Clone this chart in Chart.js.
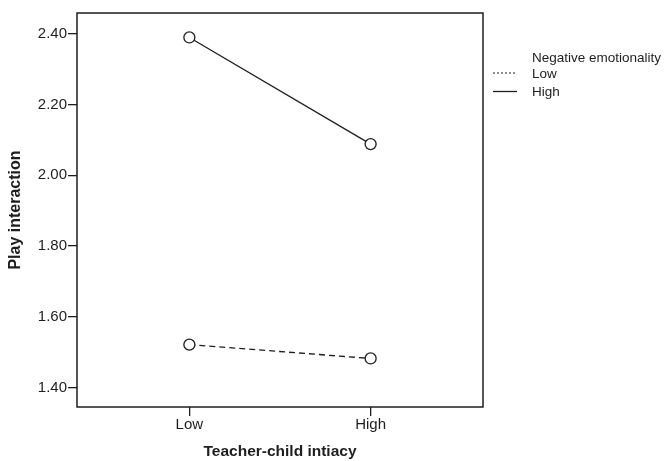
<!DOCTYPE html>
<html>
<head>
<meta charset="utf-8">
<script src="https://cdn.jsdelivr.net/npm/chart.js@4/dist/chart.umd.min.js"></script>
<style>
  html, body { margin: 0; padding: 0; background: #fff; }
  #wrap { width: 665px; height: 461px; }
</style>
</head>
<body>
<div id="wrap"><canvas id="chart"></canvas></div>
<script>
// categories on the x axis
const categories = ['Low', 'High'];
// negative emotionality groups
const seriesNames = ['Low', 'High'];
const lowValues = [1.522, 1.483];
const highValues = [2.389, 2.088];
// y axis ticks
const yTicks = [1.40, 1.60, 1.80, 2.00, 2.20, 2.40];
const yTickLabels = ['1.40', '1.60', '1.80', '2.00', '2.20', '2.40'];

const ink = '#1e1e1e';
const font = 'Liberation Sans, Arial, sans-serif';

function toPoints(vals) {
    return vals.map((v, i) => ({ x: i, y: v }));
}

// box round the plot area
const frame = {
    id: 'frame',
    afterDatasetsDraw(chart) {
        const { ctx, chartArea: a } = chart;
        ctx.save();
        ctx.strokeStyle = ink;
        ctx.lineWidth = 1.5;
        ctx.strokeRect(a.left, a.top, a.right - a.left, a.bottom - a.top);
        ctx.restore();
    }
};

// legend at the right, SPSS style
const sideLegend = {
    id: 'sideLegend',
    afterDraw(chart) {
        const { ctx, chartArea: a } = chart;
        const x0 = a.right + 10;
        ctx.save();
        ctx.font = '13.5px ' + font;
        ctx.fillStyle = ink;
        ctx.textBaseline = 'middle';
        ctx.fillText('Negative emotionality', x0 + 39, 58);
        chart.data.datasets.forEach((ds, i) => {
            const y = 74 + i * 18.5;
            ctx.beginPath();
            ctx.setLineDash(ds.borderDash.length ? [2, 2] : []);
            ctx.strokeStyle = ink;
            ctx.lineWidth = ds.borderDash.length ? 1 : 1.3;
            ctx.moveTo(x0, y - 1);
            ctx.lineTo(x0 + 24, y - 1);
            ctx.stroke();
            ctx.setLineDash([]);
            ctx.fillText(ds.label, x0 + 39, y);
        });
        ctx.restore();
    }
};

const pointStyle = {
    pointRadius: 5.5,
    pointHoverRadius: 5.5,
    pointBackgroundColor: '#fff',
    pointBorderColor: ink,
    pointBorderWidth: 1.3,
    borderColor: ink,
    borderWidth: 1.3,
    showLine: true,
    fill: false
};

new Chart(document.getElementById('chart'), {
    type: 'scatter',
    data: {
        datasets: [
            Object.assign({ label: seriesNames[0], data: toPoints(lowValues), borderDash: [6, 4] }, pointStyle),
            Object.assign({ label: seriesNames[1], data: toPoints(highValues), borderDash: [] }, pointStyle)
        ]
    },
    options: {
        responsive: true,
        maintainAspectRatio: false,
        animation: false,
        layout: { padding: { top: 13, right: 182, left: 0, bottom: 0 } },
        plugins: {
            legend: { display: false },
            tooltip: { enabled: false }
        },
        scales: {
            x: {
                type: 'linear',
                min: -0.62,
                max: 1.62,
                afterBuildTicks: s => { s.ticks = categories.map((c, i) => ({ value: i })); },
                afterFit: s => { s.height = 54; },
                ticks: {
                    callback: v => categories[v],
                    color: ink,
                    padding: 0,
                    font: { family: font, size: 15 }
                },
                grid: { display: true, drawOnChartArea: false, drawTicks: true, tickLength: 9, color: ink, lineWidth: 1.3 },
                border: { display: false },
                title: {
                    display: true,
                    text: 'Teacher-child intiacy',
                    color: ink,
                    padding: { top: 0, bottom: 0 },
                    font: { family: font, size: 15.5, weight: 'bold' }
                }
            },
            y: {
                type: 'linear',
                min: 1.346,
                max: 2.458,
                afterBuildTicks: s => { s.ticks = yTicks.map(v => ({ value: v })); },
                afterFit: s => { s.width = 77; },
                ticks: {
                    callback: (v, i) => yTickLabels[i],
                    color: ink,
                    padding: 1,
                    font: { family: font, size: 15 }
                },
                grid: { display: true, drawOnChartArea: false, drawTicks: true, tickLength: 9, color: ink, lineWidth: 1.3 },
                border: { display: false },
                title: {
                    display: true,
                    text: 'Play interaction',
                    color: ink,
                    padding: { top: 6, bottom: 0 },
                    font: { family: font, size: 16, weight: 'bold' }
                }
            }
        }
    },
    plugins: [frame, sideLegend]
});
</script>
</body>
</html>
